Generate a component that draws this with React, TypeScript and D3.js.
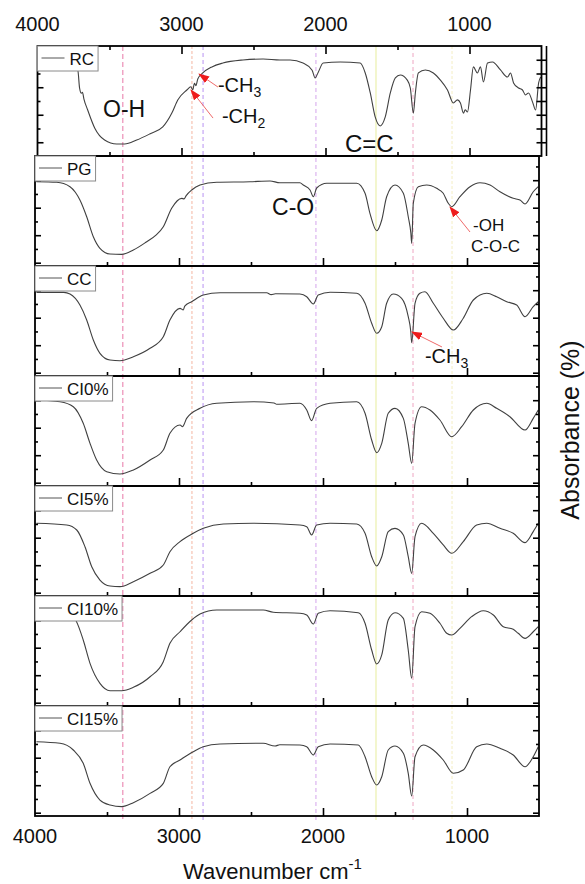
import React, { useEffect, useRef } from 'react';
import * as d3 from 'd3';

// sample names, top to bottom
const sampleNames = ['RC', 'PG', 'CC', 'CI0%', 'CI5%', 'CI10%', 'CI15%'];

// spectra as [wavenumber, relative level 0-100 inside its panel]
const rcSpectrum: [number, number][] = [
  [3990, 81], [3800, 81], [3740, 80], [3720, 78], [3708, 62], [3695, 57], [3688, 58], [3678, 52],
  [3652, 42], [3603, 25.5], [3534, 14.5], [3450, 10.9], [3395, 10.9], [3311, 14.5], [3221, 20],
  [3130, 26.4], [3067, 39], [3026, 51], [2963, 60], [2935, 63], [2922, 60], [2910, 66], [2900, 64],
  [2887, 70], [2852, 75.5], [2789, 81], [2713, 84.5], [2573, 87.3], [2434, 88.2], [2316, 87.3],
  [2246, 87.3], [2156, 84.5], [2093, 78], [2072, 71], [2051, 76], [2016, 84.5], [1898, 85.5],
  [1759, 84.5], [1724, 75.5], [1689, 57.3], [1655, 35.5], [1620, 27.3], [1585, 35.5], [1550, 57.3],
  [1515, 71], [1481, 73.6], [1432, 69], [1411, 61.8], [1390, 39], [1376, 57.3], [1355, 75.5],
  [1307, 78.2], [1251, 75.5], [1202, 69], [1153, 60], [1112, 48.2], [1084, 51], [1063, 48.2],
  [1042, 39], [1030, 42], [1014, 40], [993, 60], [973, 81], [945, 75.5], [924, 81], [903, 67.3],
  [875, 84.5], [840, 85.5], [785, 78.2], [736, 71.8], [715, 75.5], [694, 66.4], [659, 61.8],
  [632, 60], [611, 55.5], [590, 57.3], [562, 49], [541, 41.8], [520, 66.4], [506, 71.8],
];

const pgSpectrum: [number, number][] = [
  [3990, 76.6], [3849, 76.1], [3757, 72.1], [3720, 67], [3688, 60], [3641, 44.8], [3595, 26.6],
  [3549, 16.1], [3479, 10.9], [3398, 10.6], [3317, 14.5], [3224, 22.1], [3160, 28], [3109, 35.7],
  [3051, 52.5], [2981, 61.5], [2965, 61], [2950, 64], [2912, 69.1], [2854, 73.6], [2738, 76.1],
  [2507, 76.6], [2368, 77.3], [2299, 75.7], [2160, 75.7], [2137, 73.6], [2090, 69.1], [2067, 63],
  [2044, 70.9], [1974, 75.2], [1766, 75.2], [1708, 66.1], [1674, 47.9], [1627, 32.1], [1592, 41.8],
  [1558, 63], [1500, 73.6], [1442, 66.1], [1408, 44.8], [1390, 30], [1384, 20.6], [1373, 57],
  [1338, 72.1], [1280, 73.6], [1211, 70.6], [1165, 66.1], [1130, 57], [1106, 53.9], [1049, 63],
  [979, 72.1], [910, 75.7], [840, 73.6], [771, 67.5], [679, 61.5], [632, 60], [597, 56.4],
  [540, 67.5], [505, 72.1],
];

const ccSpectrum: [number, number][] = [
  [3990, 76], [3800, 76], [3757, 74.5], [3688, 64.5], [3641, 50.9], [3595, 32.7], [3549, 20.6],
  [3479, 14.5], [3410, 13.9], [3317, 17.5], [3201, 25.2], [3109, 35.7], [3063, 50.9], [2993, 61.5],
  [2970, 60], [2960, 63.6], [2912, 67.5], [2831, 73.6], [2715, 75.7], [2391, 75.7], [2360, 74],
  [2330, 74.8], [2160, 74.5], [2113, 72.1], [2067, 65.5], [2033, 73.6], [1951, 76.1], [1766, 75.2],
  [1708, 66.1], [1662, 47.9], [1627, 38.8], [1592, 44.8], [1558, 66.1], [1512, 74.5], [1454, 70.6],
  [1408, 53.9], [1390, 40], [1384, 30.3], [1361, 66.1], [1327, 75.2], [1292, 76.6], [1234, 66.1],
  [1165, 52.5], [1095, 41.8], [1026, 52.5], [956, 69.1], [863, 75.2], [794, 72.1], [724, 67.5],
  [655, 64.5], [597, 53.9], [540, 63], [505, 67.5],
];

const ci0Spectrum: [number, number][] = [
  [3990, 78.2], [3826, 76.6], [3734, 72.1], [3665, 57], [3618, 38.8], [3572, 23.6], [3502, 13],
  [3410, 10.9], [3317, 14.5], [3201, 23.6], [3109, 32.7], [3063, 47.9], [2993, 55.5], [2975, 53.9],
  [2965, 56], [2947, 61.5], [2854, 70.6], [2738, 75.2], [2484, 76.6], [2340, 75.5], [2322, 74.3],
  [2160, 75.2], [2113, 69.1], [2079, 59.4], [2044, 70.6], [1951, 75.2], [1766, 76.6], [1708, 66.1],
  [1662, 41.8], [1627, 30.3], [1592, 38.8], [1547, 66.1], [1500, 70.6], [1442, 61.5], [1408, 38.8],
  [1384, 20.6], [1361, 57], [1315, 72.1], [1257, 69.1], [1188, 60], [1106, 44.8], [1037, 53.9],
  [956, 69.1], [863, 75.2], [794, 70.6], [702, 63], [597, 50.9], [540, 61.5], [505, 69.1],
];

const ci5Spectrum: [number, number][] = [
  [3990, 66.1], [3780, 64.5], [3710, 60], [3653, 44.8], [3606, 26.6], [3549, 14.5], [3479, 9.1],
  [3410, 8.5], [3317, 13], [3201, 20.6], [3109, 28.2], [3063, 40.3], [2993, 49.4], [2901, 57],
  [2831, 61.5], [2692, 65.5], [2484, 66.1], [2160, 64.5], [2113, 63], [2079, 55.5], [2044, 64.5],
  [1951, 66.1], [1766, 65.5], [1708, 57], [1662, 35.7], [1627, 27.3], [1592, 35.7], [1547, 58.5],
  [1500, 61.5], [1442, 55.5], [1408, 35.7], [1384, 20.6], [1361, 53.9], [1315, 66.1], [1234, 57],
  [1165, 46.4], [1106, 38.8], [1026, 49.4], [933, 64.5], [863, 66.1], [771, 61.5], [679, 57],
  [597, 48.5], [540, 58.5], [505, 66.1],
];

const ci10Spectrum: [number, number][] = [
  [3990, 85.5], [3800, 84.5], [3740, 82], [3715, 77.5], [3665, 60], [3618, 38.8], [3549, 20.6],
  [3479, 13.9], [3398, 13.9], [3317, 17], [3201, 26.6], [3109, 40.3], [3063, 57], [2993, 67.5],
  [2912, 78.2], [2854, 83.6], [2738, 87.3], [2415, 87.3], [2345, 85.2], [2160, 84.3], [2113, 82.7],
  [2067, 74.5], [2033, 84.3], [1951, 86.6], [1755, 84.8], [1708, 75.2], [1662, 50.9], [1627, 38.2],
  [1592, 46.4], [1547, 78.2], [1500, 84.8], [1442, 79.7], [1408, 50.9], [1384, 25.2], [1361, 72.1],
  [1315, 85.7], [1257, 84.3], [1188, 75.2], [1141, 66.1], [1106, 64.5], [1049, 70.6], [968, 81.2],
  [887, 86.6], [817, 82.7], [748, 72.1], [679, 69.7], [644, 66.1], [597, 61.5], [540, 67.5],
  [505, 72.1],
];

const ci15Spectrum: [number, number][] = [
  [3990, 67.5], [3826, 66.1], [3734, 60], [3665, 47.9], [3618, 29.7], [3549, 14.5], [3479, 10],
  [3398, 8.5], [3317, 12.1], [3201, 20.6], [3109, 29.7], [3063, 44.8], [2993, 50.9], [2901, 58.5],
  [2831, 63], [2715, 65.5], [2415, 66.1], [2333, 63.6], [2300, 64.8], [2160, 64.5], [2113, 63],
  [2067, 55.5], [2033, 63], [1951, 65.5], [1755, 64.5], [1708, 53.9], [1662, 35.7], [1627, 28.2],
  [1592, 35.7], [1547, 60], [1500, 63.6], [1442, 57], [1408, 38.8], [1384, 18.2], [1361, 53.9],
  [1304, 64.5], [1234, 60], [1165, 50.9], [1095, 38.8], [1026, 41.8], [933, 63], [863, 65.5],
  [771, 61.5], [679, 55.5], [597, 44.8], [540, 53.9], [505, 63],
];

const spectra = [rcSpectrum, pgSpectrum, ccSpectrum, ci0Spectrum, ci5Spectrum, ci10Spectrum, ci15Spectrum];

// axis ticks
const xLabelTicks = [4000, 3000, 2000, 1000];
const xMajorTicks = [3000, 2000, 1000];
const xMinorTicks = [3500, 2500, 1500];
const rcYTicks = [12.5, 25, 37.5, 50, 62.5, 75, 87.5];
const yTicks = [3, 15.5, 28, 40.5, 53, 65.5, 78, 90.5];

// assignment guide lines
const bandLines = [
  { wn: 3390, color: '#e878a8', dash: '5,3' },
  { wn: 2910, color: '#f4b6a2', dash: '3,2' },
  { wn: 2833, color: '#b892f2', dash: '4,3' },
  { wn: 2049, color: '#d4a4ec', dash: '4,3' },
  { wn: 1632, color: '#f0f4c2', dash: '' },
  { wn: 1375, color: '#eea6c2', dash: '4,3' },
  { wn: 1104, color: '#f4eec4', dash: '3,2' },
];

const annotations = [
  { panel: 0, text: 'O-H', sub: '', wn: 3545, v: 35.5, size: 23 },
  { panel: 0, text: '-CH', sub: '3', wn: 2747, v: 58, size: 20 },
  { panel: 0, text: '-CH', sub: '2', wn: 2719, v: 30, size: 20 },
  { panel: 0, text: 'C=C', sub: '', wn: 1865, v: 3.6, size: 24 },
  { panel: 1, text: 'C-O', sub: '', wn: 2354, v: 46.4, size: 23 },
  { panel: 1, text: '-OH', sub: '', wn: 958, v: 31.8, size: 17 },
  { panel: 1, text: 'C-O-C', sub: '', wn: 972, v: 12.7, size: 17 },
  { panel: 2, text: '-CH', sub: '3', wn: 1292, v: 11.8, size: 20 },
];

const arrows = [
  { panel: 0, from: [2747, 62.7], to: [2878, 74.5] },
  { panel: 0, from: [2781, 34.5], to: [2934, 60] },
  { panel: 1, from: [979, 30.9], to: [1118, 53.6] },
  { panel: 2, from: [1174, 26.4], to: [1382, 40] },
];

const FONT = "'Liberation Sans', Arial, Helvetica, sans-serif";

const App: React.FC = () => {
  const ref = useRef<SVGSVGElement>(null);

  useEffect(() => {
    if (!ref.current) return;
    const svg = d3.select(ref.current);
    svg.selectAll('*').remove();

    const panelTop = 46;
    const panelH = 110;
    const left = 35;
    const right = 539;
    const rcShift = 2.5;

    const x = d3.scaleLinear().domain([4000, 500]).range([left, right]);
    const xRc = d3.scaleLinear().domain([4000, 500]).range([left + rcShift, right + rcShift]);
    const yFor = (i: number) =>
      d3.scaleLinear().domain([0, 100]).range([panelTop + panelH * (i + 1), panelTop + panelH * i]);

    const defs = svg.append('defs');
    defs.append('marker')
      .attr('id', 'red-head')
      .attr('markerUnits', 'userSpaceOnUse')
      .attr('markerWidth', 11)
      .attr('markerHeight', 8)
      .attr('refX', 10)
      .attr('refY', 4)
      .attr('orient', 'auto')
      .append('path')
      .attr('d', 'M0,0 L11,4 L0,8 Z')
      .attr('fill', '#ee1c1c');

    svg.append('rect').attr('width', 585).attr('height', 884).attr('fill', '#fff');

    // guide lines behind everything
    const yTop = yFor(0)(100);
    const yBottom = yFor(6)(0);
    svg.selectAll('.band')
      .data(bandLines)
      .join('line')
      .attr('x1', d => x(d.wn))
      .attr('x2', d => x(d.wn))
      .attr('y1', yTop)
      .attr('y2', yBottom + 4)
      .attr('stroke', d => d.color)
      .attr('stroke-width', d => (d.dash ? 1 : 1.6))
      .attr('stroke-dasharray', d => d.dash);

    spectra.forEach((data, i) => {
      const xs = i === 0 ? xRc : x;
      const y = yFor(i);
      const top = y(100);
      const bottom = y(0);
      const x0 = xs(4000);
      const x1 = xs(500);
      const g = svg.append('g');

      const line = d3.line<[number, number]>()
        .x(d => xs(d[0]))
        .y(d => y(d[1]))
        .curve(d3.curveMonotoneX);

      g.append('path')
        .datum(data)
        .attr('d', line)
        .attr('fill', 'none')
        .attr('stroke', '#404040')
        .attr('stroke-width', 1.1);

      // frame
      g.append('rect')
        .attr('x', x0)
        .attr('y', top)
        .attr('width', x1 - x0)
        .attr('height', bottom - top)
        .attr('fill', 'none')
        .attr('stroke', '#000')
        .attr('stroke-width', 1.8);

      const styleTicks = (sel: d3.Selection<SVGGElement, unknown, null, undefined>) => {
        sel.select('.domain').remove();
        sel.selectAll('line').attr('stroke', '#000').attr('stroke-width', 1.6);
      };
      // bottom ticks (pointing in)
      g.append('g').attr('transform', `translate(0,${bottom})`)
        .call(d3.axisBottom(xs).tickValues(xMajorTicks).tickSize(-8).tickFormat(() => ''))
        .call(styleTicks);
      g.append('g').attr('transform', `translate(0,${bottom})`)
        .call(d3.axisBottom(xs).tickValues(xMinorTicks).tickSize(-4).tickFormat(() => ''))
        .call(styleTicks);
      if (i === 0) {
        g.append('g').attr('transform', `translate(0,${top})`)
          .call(d3.axisTop(xs).tickValues(xMajorTicks).tickSize(-8).tickFormat(() => ''))
          .call(styleTicks);
        g.append('g').attr('transform', `translate(0,${top})`)
          .call(d3.axisTop(xs).tickValues(xMinorTicks).tickSize(-4).tickFormat(() => ''))
          .call(styleTicks);
      }

      // side ticks
      const ticks = i === 0 ? rcYTicks : yTicks;
      const major = ticks.filter((_, k) => k % 2 === 0);
      const minor = ticks.filter((_, k) => k % 2 === 1);
      g.append('g').attr('transform', `translate(${x0},0)`)
        .call(d3.axisLeft(y).tickValues(major).tickSize(-6).tickFormat(() => ''))
        .call(styleTicks);
      g.append('g').attr('transform', `translate(${x0},0)`)
        .call(d3.axisLeft(y).tickValues(minor).tickSize(-3).tickFormat(() => ''))
        .call(styleTicks);
      if (i === 0) {
        // doubled right edge on the top panel
        g.append('line')
          .attr('x1', x1 + 5).attr('x2', x1 + 5)
          .attr('y1', top).attr('y2', bottom)
          .attr('stroke', '#000').attr('stroke-width', 1.6);
        g.append('g').attr('transform', `translate(${x1 + 5},0)`)
          .call(d3.axisLeft(y).tickValues(ticks).tickSize(10).tickFormat(() => ''))
          .call(styleTicks);
      } else {
        g.append('g').attr('transform', `translate(${x1},0)`)
          .call(d3.axisRight(y).tickValues(major).tickSize(-6).tickFormat(() => ''))
          .call(styleTicks);
        g.append('g').attr('transform', `translate(${x1},0)`)
          .call(d3.axisRight(y).tickValues(minor).tickSize(-3).tickFormat(() => ''))
          .call(styleTicks);
      }
    });

    // legend boxes
    spectra.forEach((_, i) => {
      const xs = i === 0 ? xRc : x;
      const y = yFor(i);
      const bx = xs(4000);
      const by = y(100);
      const lg = svg.append('g');
      const box = lg.append('rect')
        .attr('x', bx)
        .attr('y', by)
        .attr('height', 25)
        .attr('fill', '#fff')
        .attr('stroke', '#8a8a8a')
        .attr('stroke-width', 1);
      lg.append('line')
        .attr('x1', bx + 4).attr('x2', bx + 27)
        .attr('y1', by + 12).attr('y2', by + 12)
        .attr('stroke', '#555').attr('stroke-width', 1);
      const label = lg.append('text')
        .attr('x', bx + 32)
        .attr('y', by + 19)
        .attr('font-family', FONT)
        .attr('font-size', 17)
        .attr('fill', '#111')
        .text(sampleNames[i]);
      const tw = (label.node() as SVGTextElement).getComputedTextLength();
      box.attr('width', 32 + tw + 4);
    });

    // annotations
    annotations.forEach(a => {
      const xs = a.panel === 0 ? xRc : x;
      const y = yFor(a.panel);
      const t = svg.append('text')
        .attr('x', xs(a.wn))
        .attr('y', y(a.v))
        .attr('font-family', FONT)
        .attr('font-size', a.size)
        .attr('fill', '#111')
        .text(a.text);
      if (a.sub) {
        t.append('tspan')
          .attr('dy', 5)
          .attr('font-size', a.size * 0.7)
          .text(a.sub);
      }
    });

    arrows.forEach(a => {
      const xs = a.panel === 0 ? xRc : x;
      const y = yFor(a.panel);
      svg.append('line')
        .attr('x1', xs(a.from[0]))
        .attr('y1', y(a.from[1]))
        .attr('x2', xs(a.to[0]))
        .attr('y2', y(a.to[1]))
        .attr('stroke', '#ef6a6a')
        .attr('stroke-width', 1)
        .attr('marker-end', 'url(#red-head)');
    });

    // tick labels
    svg.selectAll('.top-label')
      .data(xLabelTicks)
      .join('text')
      .attr('x', d => xRc(d))
      .attr('y', 31)
      .attr('text-anchor', 'middle')
      .attr('font-family', FONT)
      .attr('font-size', 20)
      .attr('fill', '#111')
      .text(d => d);
    svg.selectAll('.bottom-label')
      .data(xLabelTicks)
      .join('text')
      .attr('x', d => x(d))
      .attr('y', yBottom + 27)
      .attr('text-anchor', 'middle')
      .attr('font-family', FONT)
      .attr('font-size', 20)
      .attr('fill', '#111')
      .text(d => d);

    // axis titles
    const xt = svg.append('text')
      .attr('x', 183)
      .attr('y', 879)
      .attr('font-family', FONT)
      .attr('font-size', 22)
      .attr('fill', '#111')
      .text('Wavenumber cm');
    xt.append('tspan').attr('dy', -10).attr('font-size', 15).text('-1');

    svg.append('text')
      .attr('transform', 'translate(579,430) rotate(-90)')
      .attr('text-anchor', 'middle')
      .attr('font-family', FONT)
      .attr('font-size', 25)
      .attr('fill', '#111')
      .text('Absorbance (%)');
  }, []);

  return (
    <svg
      ref={ref}
      width={585}
      height={884}
      style={{ position: 'absolute', left: 0, top: 0, display: 'block' }}
    />
  );
};

export default App;
